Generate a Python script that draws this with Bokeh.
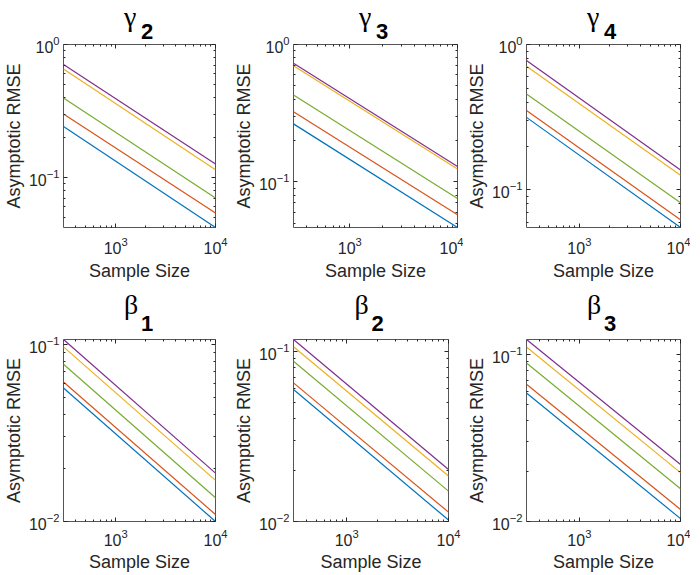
from bokeh.plotting import figure
from bokeh.models import Range1d, FixedTicker, LogAxis, CustomJSTickFormatter, Title
from bokeh.layouts import column, row
from bokeh.embed import file_html
from bokeh.resources import INLINE

# ---------------- data ----------------
sample_size = [300, 10000]
# line colours (MATLAB default order used in the figure)
line_colors = ["#0072BD", "#D95319", "#77AC30", "#EDB120", "#7E2F8E"]

panel_symbols = ["γ", "γ", "γ", "β", "β", "β"]
panel_subscripts = ["2", "3", "4", "1", "2", "3"]

# RMSE at the first and last sample size, one pair per line (blue, red, green, yellow, purple)
gamma2_rmse = [[0.242, 0.0420], [0.300, 0.0539], [0.396, 0.0699], [0.655, 0.114], [0.707, 0.126]]
gamma3_rmse = [[0.264, 0.0464], [0.324, 0.0574], [0.429, 0.0755], [0.699, 0.124], [0.731, 0.129]]
gamma4_rmse = [[0.315, 0.0550], [0.351, 0.0621], [0.457, 0.0813], [0.709, 0.126], [0.776, 0.137]]
beta1_rmse = [[0.0566, 0.0100], [0.0612, 0.01095], [0.0771, 0.0136], [0.0966, 0.01705], [0.1063, 0.01875]]
beta2_rmse = [[0.0595, 0.0102], [0.0651, 0.01135], [0.0873, 0.01507], [0.106, 0.0185], [0.117, 0.0202]]
beta3_rmse = [[0.0587, 0.0104], [0.0661, 0.0118], [0.0887, 0.0157], [0.1106, 0.0196], [0.1225, 0.0219]]
panel_rmse = [gamma2_rmse, gamma3_rmse, gamma4_rmse, beta1_rmse, beta2_rmse, beta3_rmse]

y_lower = [0.042, 0.0464, 0.055, 0.01, 0.01, 0.01]
y_upper = [1.0, 1.0, 1.0, 0.1063, 0.117, 0.1225]
x_lower, x_upper = 300, 10000

x_major_ticks = [1000, 10000]
x_minor_ticks = [400, 500, 600, 700, 800, 900, 2000, 3000, 4000, 5000, 6000, 7000, 8000, 9000]
y_major_top = [0.1, 1.0]
y_minor_top = [0.05, 0.06, 0.07, 0.08, 0.09, 0.2, 0.3, 0.4, 0.5, 0.6, 0.7, 0.8, 0.9]
y_major_bottom = [0.01, 0.1]
y_minor_bottom = [0.02, 0.03, 0.04, 0.05, 0.06, 0.07, 0.08, 0.09]

x_label = "Sample Size"
y_label = "Asymptotic RMSE"

# ---------------- layout ----------------
FONT = "Liberation Sans"
TXT = "#262626"

# (width, border_left, frame_width, border_right) per column, per row
col_geom_top = [(230, 58, 157, 15), (233, 60, 167, 6), (227, 60, 157, 10)]
col_geom_bot = [(230, 58, 157, 15), (233, 60, 158, 15), (227, 60, 157, 10)]
row_geom = [(283, 44, 183, 56), (291, 56, 182, 53)]  # height, top, frame, bottom


def make_panel(i):
    r = 0 if i < 3 else 1
    c = i % 3
    w, bl, fw, br = (col_geom_top if r == 0 else col_geom_bot)[c]
    h, bt, fh, bb = row_geom[r]
    p = figure(width=w, height=h, x_axis_type="log", y_axis_type="log",
               x_range=Range1d(x_lower, x_upper), y_range=Range1d(y_lower[i], y_upper[i]),
               output_backend="svg", toolbar_location=None,
               min_border_left=bl, min_border_right=br, min_border_top=bt, min_border_bottom=bb)
    p.grid.visible = False
    p.outline_line_color = "#555555"
    p.outline_line_width = 1
    p.background_fill_color = "white"
    p.border_fill_color = "white"

    for k, vals in enumerate(panel_rmse[i]):
        p.line(sample_size, vals, line_color=line_colors[k], line_width=1.2)

    ymaj = y_major_top if r == 0 else y_major_bottom
    ymin = y_minor_top if r == 0 else y_minor_bottom
    p.xaxis.ticker = FixedTicker(ticks=x_major_ticks, minor_ticks=x_minor_ticks)
    p.yaxis.ticker = FixedTicker(ticks=ymaj, minor_ticks=ymin)
    p.xaxis.axis_label = x_label
    p.yaxis.axis_label = y_label
    for ax in (p.xaxis[0], p.yaxis[0]):
        ax.axis_line_color = None
        ax.major_tick_in = 4
        ax.major_tick_out = 0
        ax.minor_tick_in = 2
        ax.minor_tick_out = 0
        ax.major_tick_line_color = TXT
        ax.minor_tick_line_color = TXT
        ax.major_label_text_font = FONT
        ax.major_label_text_font_size = "16px"
        ax.major_label_text_color = TXT
        ax.axis_label_text_font = FONT
        ax.axis_label_text_font_size = "18px"
        ax.axis_label_text_font_style = "normal"
        ax.axis_label_text_color = TXT
    p.xaxis.major_label_standoff = 9 if r == 0 else 7
    p.xaxis.axis_label_standoff = 4 if r == 0 else 3
    p.yaxis.major_label_standoff = 4
    p.yaxis.axis_label_standoff = 2

    blank = CustomJSTickFormatter(code="return ''")
    top_ax = LogAxis(ticker=FixedTicker(ticks=x_major_ticks, minor_ticks=x_minor_ticks),
                     formatter=blank, axis_line_color=None, major_tick_in=4, major_tick_out=0,
                     minor_tick_in=2, minor_tick_out=0, major_label_standoff=0,
                     major_tick_line_color=TXT, minor_tick_line_color=TXT)
    right_ax = LogAxis(ticker=FixedTicker(ticks=ymaj, minor_ticks=ymin),
                       formatter=blank, axis_line_color=None, major_tick_in=4, major_tick_out=0,
                       minor_tick_in=2, minor_tick_out=0, major_label_standoff=0,
                       major_tick_line_color=TXT, minor_tick_line_color=TXT)
    p.add_layout(top_ax, "above")
    p.add_layout(right_ax, "right")

    # panel title: symbol with a bold subscript
    sub_standoff = 12 if r == 0 else 18
    sym_standoff = -33 if r == 0 else -30
    p.add_layout(Title(text=panel_subscripts[i], align="left", offset=fw / 2 - 1,
                       standoff=sub_standoff, text_font=FONT, text_font_style="bold",
                       text_font_size="22px", text_color="black"), "above")
    p.add_layout(Title(text=panel_symbols[i], align="left", offset=fw / 2 - 18,
                       standoff=sym_standoff, text_font="Liberation Serif",
                       text_font_style="normal", text_font_size="28px",
                       text_color="black"), "above")
    return p


panels = [make_panel(i) for i in range(6)]
layout = column(row(*panels[:3]), row(*panels[3:]))

with open("out.html", "w") as f:
    f.write(file_html(layout, INLINE))
